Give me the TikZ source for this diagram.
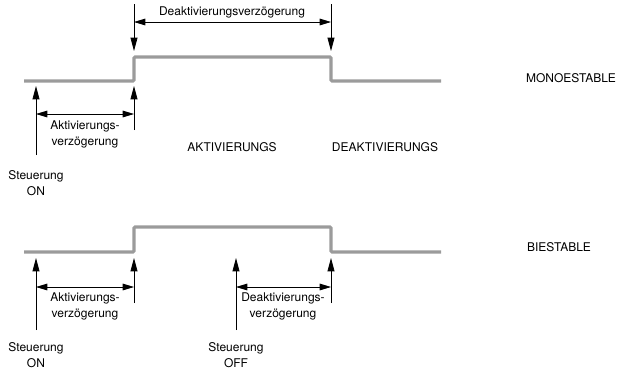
\documentclass[tikz,border=0pt]{standalone}
\usepackage{fontspec}
\setmainfont{TeX Gyre Heros}
\usetikzlibrary{arrows.meta,positioning,calc}
\definecolor{siggray}{HTML}{9B9B9B}
\tikzset{
    signal/.style={draw=siggray,line width=2.3pt,rounded corners=0.8pt},
    trigger/.style={draw,-{Triangle[length=10pt,width=5.2pt]},line width=0.6pt},
    span/.style={draw,{Triangle[length=8.5pt,width=5pt]}-{Triangle[length=8.5pt,width=5pt]},line width=0.6pt},
    lbl/.style={font=\fontsize{9}{12}\selectfont,align=center,inner sep=0pt},
}

\begin{document}
\begin{tikzpicture}[x=0.75pt,y=-0.75pt]
    \useasboundingbox (0,0) rectangle (629,376);
    % monoestable
    \coordinate (mstart) at (24,81);
    \coordinate (mrise) at (134,81);
    \coordinate (mfall) at (331,57);
    \coordinate (mend) at (441,81);
    \draw[signal] (mstart) -- (mrise) -- (mrise |- mfall) -- (mfall) -- (mfall |- mend) -- (mend);
    \coordinate (mdel1) at (134,4);
    \coordinate (mdel2) at (331,4);
    \draw[trigger] (mdel1) -- (134,51);
    \draw[trigger] (mdel2) -- (331,51);
    \draw[span] ($(mdel1)+(0,18)$) -- ($(mdel2)+(0,18)$);
    \node[lbl] (mdelay) at (232,12) {Deaktivierungsverzögerung};
    \coordinate (mon) at (36,155);
    \coordinate (mact) at (134,130);
    \draw[trigger] (mon) -- (36,86);
    \draw[trigger] (mact) -- (134,86);
    \draw[span] (36,114) -- (134,114);
    \node[lbl] (mactdelay) at (85,134) {Aktivierungs-\\verzögerung};
    \node[lbl] (mcmdon) at (36,183.5) {Steuerung\\ON};
    \node[lbl] (makt) at (232,147) {AKTIVIERUNGS};
    \node[lbl] (mdeakt) at (385,147) {DEAKTIVIERUNGS};
    \node[lbl] (mono) at (571,78) {MONOESTABLE};
    % biestable
    \coordinate (bstart) at (24,252);
    \coordinate (brise) at (134,252);
    \coordinate (bfall) at (331,227);
    \coordinate (bend) at (441,252);
    \draw[signal] (bstart) -- (brise) -- (brise |- bfall) -- (bfall) -- (bfall |- bend) -- (bend);
    \coordinate (bon) at (36,330);
    \coordinate (bact) at (134,303);
    \coordinate (boff) at (236,330);
    \coordinate (bdeact) at (331,303);
    \draw[trigger] (bon) -- (36,258);
    \draw[trigger] (bact) -- (134,258);
    \draw[trigger] (boff) -- (236,258);
    \draw[trigger] (bdeact) -- (331,258);
    \draw[span] (36,287) -- (134,287);
    \draw[span] (236,287) -- (331,287);
    \node[lbl] (bactdelay) at (85,306) {Aktivierungs-\\verzögerung};
    \node[lbl] (bdeactdelay) at (283,306) {Deaktivierungs-\\verzögerung};
    \node[lbl] (bcmdon) at (36,355) {Steuerung\\ON};
    \node[lbl] (bcmdoff) at (236,355) {Steuerung\\OFF};
    \node[lbl] (bi) at (559,247) {BIESTABLE};
\end{tikzpicture}
\end{document}
